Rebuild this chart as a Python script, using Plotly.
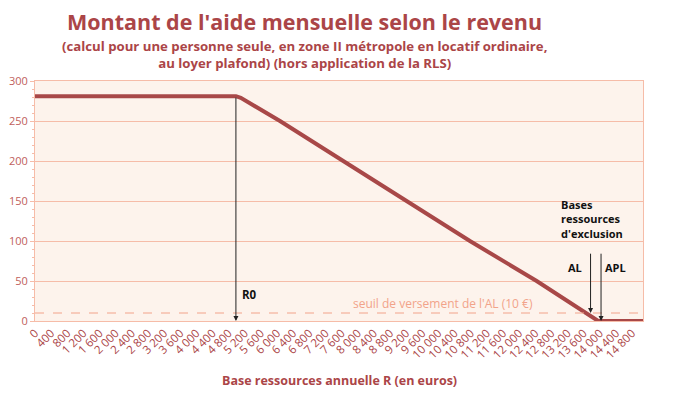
import plotly.graph_objects as go

# Data
revenu = [0, 4980, 5100, 6072, 7640, 9212, 10780, 12434, 13672, 13960, 15070]
aide = [281, 281, 279, 250, 200, 150, 100, 50, 10, 0, 0]

x_ticks = list(range(0, 14801, 400))
x_tick_labels = [f"{v:,}".replace(",", " ") for v in x_ticks]
y_ticks = [0, 50, 100, 150, 200, 250, 300]

R0 = 4980
R0_top = 281
seuil = 10
excl_AL = 13770
excl_APL = 14030
arrow_top = 86

RED = "#a84848"
TXT = "#ab4547"
GRID = "#f6bca8"
SALMON = "#f2a38a"
FONT = "Open Sans"

fig = go.Figure()
fig.add_trace(go.Scatter(x=revenu, y=aide, mode="lines",
                         line=dict(color=RED, width=4), hoverinfo="skip"))
fig.add_trace(go.Scatter(x=[0, 15070], y=[seuil, seuil], mode="lines",
                         line=dict(color=SALMON, width=1, dash="dash"), hoverinfo="skip"))

annotations = [
    dict(text="<b>Montant de l'aide mensuelle selon le revenu</b>", xref="paper", yref="paper",
         x=0.444, y=1.0, yshift=60, xanchor="center", yanchor="middle", showarrow=False,
         font=dict(family=FONT, size=21.5, color=TXT)),
    dict(text="<b>(calcul pour une personne seule, en zone II métropole en locatif ordinaire,<br>au loyer plafond) (hors application de la RLS)</b>",
         xref="paper", yref="paper", x=0.444, y=1.0, yshift=27, xanchor="center", yanchor="middle",
         showarrow=False, align="center", font=dict(family=FONT, size=13.2, color=TXT)),
    dict(text="<b>Base ressources annuelle R (en euros)</b>", xref="paper", yref="paper",
         x=0.5, y=0, yshift=-59, xanchor="center", yanchor="middle", showarrow=False,
         font=dict(family=FONT, size=12.5, color=TXT)),
    dict(x=R0, y=0, ax=R0, ay=R0_top, xref="x", yref="y", axref="x", ayref="y",
         text="", showarrow=True, arrowhead=2, arrowsize=1, arrowwidth=1, arrowcolor="#222"),
    dict(text="<b>R0</b>", x=R0, y=33, xref="x", yref="y", xanchor="left", xshift=4,
         showarrow=False, font=dict(family=FONT, size=11.5, color="#111")),
    dict(x=excl_AL, y=seuil, ax=excl_AL, ay=arrow_top, xref="x", yref="y", axref="x", ayref="y",
         text="", showarrow=True, arrowhead=2, arrowsize=1, arrowwidth=1, arrowcolor="#222"),
    dict(x=excl_APL, y=0, ax=excl_APL, ay=arrow_top, xref="x", yref="y", axref="x", ayref="y",
         text="", showarrow=True, arrowhead=2, arrowsize=1, arrowwidth=1, arrowcolor="#222"),
    dict(text="<b>AL</b>", x=excl_AL, y=67, xref="x", yref="y", xanchor="right", xshift=-7,
         showarrow=False, font=dict(family=FONT, size=11, color="#111")),
    dict(text="<b>APL</b>", x=excl_APL, y=67, xref="x", yref="y", xanchor="left", xshift=2,
         showarrow=False, font=dict(family=FONT, size=11, color="#111")),
    dict(text="<b>Bases<br>ressources<br>d'exclusion</b>", x=12990, y=127, xref="x", yref="y",
         xanchor="left", yanchor="middle", align="left", showarrow=False,
         font=dict(family=FONT, size=11, color="#111")),
    dict(text="seuil de versement de l'AL (10 €)", x=10120, y=seuil, xref="x", yref="y",
         xanchor="center", yanchor="bottom", yshift=-1, showarrow=False,
         font=dict(family=FONT, size=12, color=SALMON)),
]

fig.update_layout(
    width=673, height=386,
    margin=dict(l=27, r=38, t=73, b=73),
    paper_bgcolor="white", plot_bgcolor="#fdf3ec",
    showlegend=False,
    annotations=annotations,
    xaxis=dict(range=[0, 15070], tickvals=x_ticks, ticktext=x_tick_labels, tickangle=-45,
               showgrid=False, zeroline=False, showline=True, linecolor=GRID, linewidth=1,
               mirror=True, ticks="", automargin=False,
               tickfont=dict(family=FONT, size=11.5, color=TXT)),
    yaxis=dict(range=[0, 300], tickvals=y_ticks, showgrid=True, gridcolor=GRID, gridwidth=1,
               zeroline=False, showline=True, linecolor=GRID, linewidth=1, mirror=True,
               ticks="outside", ticklen=4, tickcolor=GRID, automargin=False,
               minor=dict(dtick=10, ticks="outside", ticklen=2, tickcolor=GRID, showgrid=False),
               tickfont=dict(family=FONT, size=11, color="#c0605c")),
)

fig.write_html("out.html")
